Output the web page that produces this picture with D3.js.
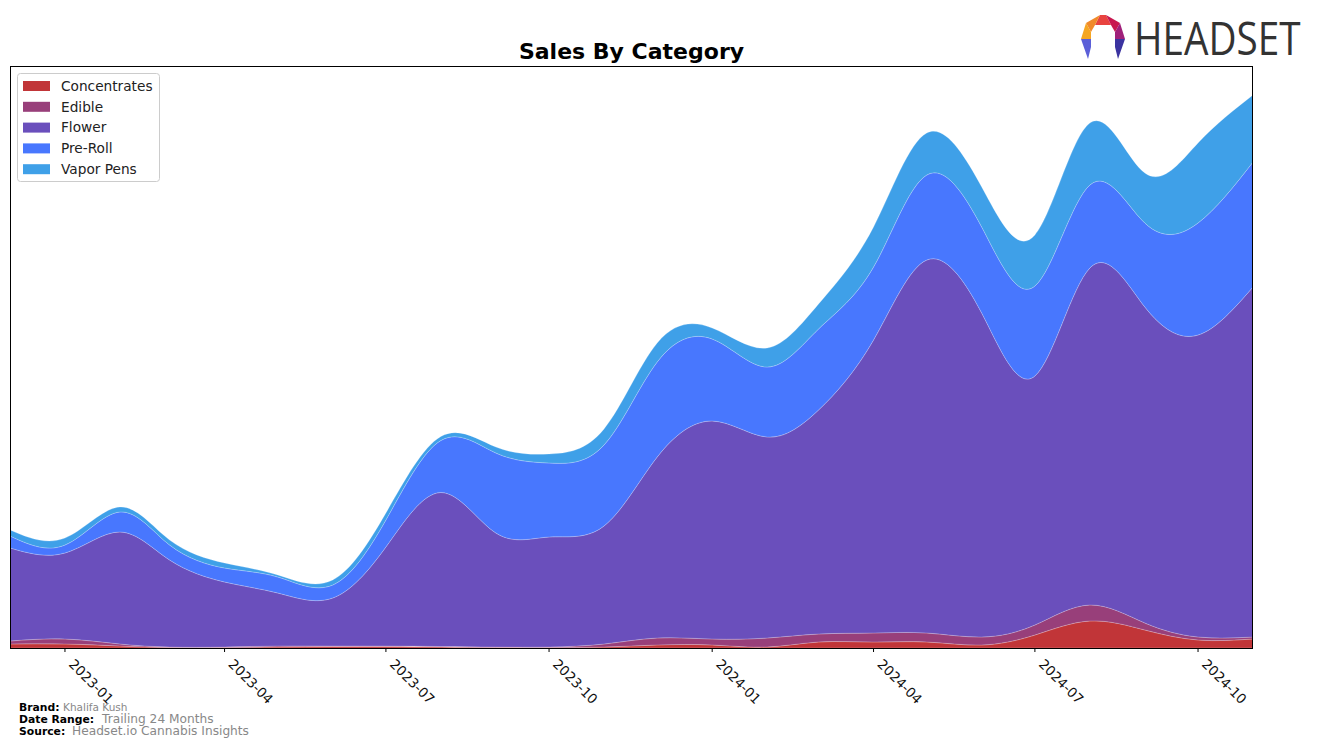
<!DOCTYPE html>
<head>
<meta charset="utf-8">
<style>
body { margin: 0; background: #fff; }
svg { font-family: "DejaVu Sans", sans-serif; }
.layer { stroke: #fff; stroke-opacity: 0.35; stroke-width: 0.6px; }
.legend text { font-size: 13.7px; fill: #222; }
.xtick text { font-size: 13.5px; fill: #111; }
.foot-b { font-size: 10.8px; font-weight: bold; fill: #000; }
.foot-v { fill: #888; }
</style>
</head>
<body>
<svg width="1317" height="746"></svg>
<script src="https://cdn.jsdelivr.net/npm/d3@7/dist/d3.min.js"></script>
<script>

// monthly sales by category (arbitrary units)
var months = ["2022-12","2023-01","2023-02","2023-03","2023-04","2023-05","2023-06","2023-07",
              "2023-08","2023-09","2023-10","2023-11","2023-12","2024-01","2024-02","2024-03",
              "2024-04","2024-05","2024-06","2024-07","2024-08","2024-09","2024-10","2024-11"];
var concentrates = [4, 4, 2, 0.5, 0.5, 1, 1.5, 1.5, 1, 0.5, 0.5, 1, 3, 3, 1, 6, 6, 6, 3, 13, 27, 18, 8, 9];
var edible       = [3, 5, 2, 0.5, 0.5, 1, 0.5, 0.5, 0.5, 0.5, 0.5, 3, 7, 6, 9, 8, 9, 9, 8, 10, 16, 7, 3, 2];
var flower       = [93, 86, 112, 87, 65, 53, 48, 99, 154, 114, 110, 118, 181, 218, 201, 224, 293, 373, 324, 249, 337, 316, 302, 350];
var preRoll      = [12, 8, 20, 15, 14, 16, 13, 27, 52, 80, 74, 81, 95, 82, 70, 81, 73, 85, 86, 90, 83, 84, 112, 125];
var vaporPens    = [6, 7, 5, 5, 5, 2, 5, 7, 4, 6, 9, 16, 19, 11, 19, 25, 40, 42, 40, 51, 62, 50, 80, 67];

var categories = ["Concentrates", "Edible", "Flower", "Pre-Roll", "Vapor Pens"];
var colors = ["#c13538", "#983f7a", "#6a4fbc", "#4877fe", "#3fa0e8"];
var tickLabels = ["2023-01","2023-04","2023-07","2023-10","2024-01","2024-04","2024-07","2024-10"];

var svg = d3.select("svg");
var plotL = 10, plotR = 1253, plotT = 66, plotB = 648;

var parse = d3.timeParse("%Y-%m");
var rows = months.map(function(m, i) {
  return { date: parse(m), "Concentrates": concentrates[i], "Edible": edible[i],
           "Flower": flower[i], "Pre-Roll": preRoll[i], "Vapor Pens": vaporPens[i] };
});

var series = d3.stack().keys(categories)(rows);

var x = d3.scaleTime()
    .domain(d3.extent(rows, function(d) { return d.date; }))
    .range([plotL, plotR]);

var ymax = d3.max(series[series.length - 1], function(d) { return d[1]; });
var y = d3.scaleLinear().domain([0, ymax * 1.0525]).range([plotB, plotT]);

var area = d3.area()
    .curve(d3.curveNatural)
    .x(function(d) { return x(d.data.date); })
    .y0(function(d) { return y(d[0]); })
    .y1(function(d) { return y(d[1]); });

svg.append("defs").append("clipPath").attr("id", "clip")
  .append("rect").attr("x", plotL).attr("y", plotT).attr("width", plotR - plotL).attr("height", plotB - plotT);

svg.append("g").attr("clip-path", "url(#clip)")
  .selectAll("path").data(series).enter().append("path")
    .attr("class", "layer")
    .attr("fill", function(d, i) { return colors[i]; })
    .attr("d", area);

// frame
svg.append("rect")
    .attr("x", plotL + 0.5).attr("y", plotT + 0.5)
    .attr("width", plotR - plotL - 1).attr("height", plotB - plotT)
    .attr("fill", "none").attr("stroke", "#000").attr("stroke-width", 1);

// x ticks
var xt = svg.append("g").selectAll(".xtick")
    .data(tickLabels).enter().append("g")
    .attr("class", "xtick")
    .attr("transform", function(d) { return "translate(" + x(parse(d)) + "," + plotB + ")"; });
xt.append("line").attr("y1", 0).attr("y2", 4).attr("stroke", "#000");
xt.append("text")
    .attr("transform", "translate(3,17) rotate(45)")
    .text(function(d) { return d; });

// title
svg.append("text")
    .attr("x", (plotL + plotR) / 2).attr("y", 59)
    .attr("text-anchor", "middle")
    .style("font-size", "22px").style("font-weight", "bold")
    .text("Sales By Category");

// legend
var lg = svg.append("g").attr("class", "legend");
lg.append("rect")
    .attr("x", 17.5).attr("y", 73.5).attr("width", 142).attr("height", 108).attr("rx", 3)
    .attr("fill", "#fff").attr("fill-opacity", 0.8).attr("stroke", "#ccc");
var li = lg.selectAll(".item").data(categories).enter().append("g")
    .attr("transform", function(d, i) { return "translate(23," + (86 + i * 20.8) + ")"; });
li.append("rect").attr("x", 0).attr("y", -5).attr("width", 27).attr("height", 10)
    .attr("fill", function(d, i) { return colors[i]; });
li.append("text").attr("x", 38).attr("dy", "0.35em").text(function(d) { return d; });

// footer
var foot = [["Brand:", "Khalifa Kush", 711, 44, 10.5],
            ["Date Range:", "Trailing 24 Months", 723, 83, 12.2],
            ["Source:", "Headset.io Cannabis Insights", 734.5, 53, 12.2]];
foot.forEach(function(f) {
  svg.append("text").attr("class", "foot-b").attr("x", 19).attr("y", f[2]).text(f[0]);
  svg.append("text").attr("class", "foot-v").attr("x", 19 + f[3]).attr("y", f[2])
     .style("font-size", f[4] + "px").text(f[1]);
});

// logo
var logo = svg.append("g").attr("transform", "translate(1103,37)");
var segs = [
  ["#e8433f", [[-3,-22],[3,-22],[8,-12],[-8,-12]]],
  ["#c8174f", [[3,-22],[17,-14],[12,-5],[8,-12]]],
  ["#a0207a", [[17,-14],[22,2],[12,2],[12,-5]]],
  ["#f08a2a", [[-3,-22],[-17,-14],[-12,-5],[-8,-12]]],
  ["#f5a623", [[-17,-14],[-22,2],[-12,2],[-12,-5]]],
  ["#5b5fd8", [[-22,2],[-12,2],[-12,10],[-15,22]]],
  ["#3b33a0", [[22,2],[12,2],[12,10],[15,22]]]
];
segs.forEach(function(s) {
  logo.append("polygon").attr("points", s[1].map(function(p) { return p.join(","); }).join(" "))
      .attr("fill", s[0]);
});
svg.append("g").attr("transform", "translate(1134,55) scale(0.86,1)")
  .append("text")
    .style("font-family", "'Open Sans', sans-serif")
    .style("font-size", "45px").style("fill", "#333")
    .text("HEADSET");

</script>
</body>
